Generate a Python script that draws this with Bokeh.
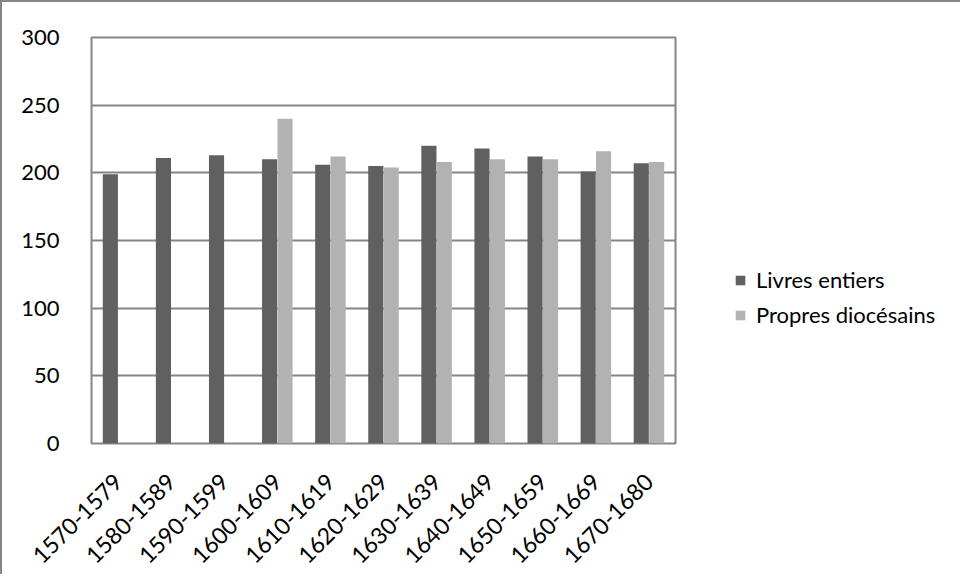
import math
from bokeh.plotting import figure
from bokeh.models import ColumnDataSource, FactorRange, Legend, LegendItem, FixedTicker
from bokeh.transform import dodge
from bokeh.embed import file_html
from bokeh.resources import INLINE

categories = ["1570-1579", "1580-1589", "1590-1599", "1600-1609", "1610-1619",
              "1620-1629", "1630-1639", "1640-1649", "1650-1659", "1660-1669", "1670-1680"]
livres_entiers = [199, 211, 213, 210, 206, 205, 220, 218, 212, 201, 207]
propres_diocesains = [float("nan"), float("nan"), float("nan"), 240, 212, 204, 208, 210, 210, 216, 208]
series_names = ["Livres entiers", "Propres diocésains"]
y_ticks = [0, 50, 100, 150, 200, 250, 300]

src = ColumnDataSource(dict(cat=categories, a=livres_entiers, b=propres_diocesains))

FONT = "Lato"
GRID = "#868686"

p = figure(x_range=FactorRange(*categories, range_padding=0), y_range=(0, 300),
           frame_width=584, frame_height=406, output_backend="svg", toolbar_location=None,
           min_border_left=89, min_border_top=35, min_border_right=0, min_border_bottom=125)
p.styles = {"border-left": "2px solid #868686", "border-top": "2px solid #868686"}

r1 = p.vbar(x=dodge("cat", -0.145, range=p.x_range), top="a", width=0.285, source=src,
            fill_color="#606060", line_color=None)
r2 = p.vbar(x=dodge("cat", 0.145, range=p.x_range), top="b", width=0.285, source=src,
            fill_color="#b2b2b2", line_color=None)

p.outline_line_color = GRID
p.outline_line_width = 2
p.xgrid.grid_line_color = None
p.ygrid.grid_line_color = GRID
p.ygrid.grid_line_width = 2
p.yaxis.ticker = FixedTicker(ticks=y_ticks)

for ax in (p.xaxis[0], p.yaxis[0]):
    ax.axis_line_color = None
    ax.major_tick_line_color = None
    ax.minor_tick_line_color = None
    ax.major_label_text_font = FONT
    ax.major_label_text_font_size = "22px"
    ax.major_label_text_color = "black"

p.xaxis.major_label_text_font_size = "23px"
p.yaxis.major_label_standoff = 26
p.xaxis.major_label_orientation = math.pi / 4
p.xaxis.major_label_standoff = 28

legend = Legend(items=[LegendItem(label=series_names[0], renderers=[r1]),
                       LegendItem(label=series_names[1], renderers=[r2])],
                location=(59, 115), orientation="vertical")
legend.border_line_color = None
legend.background_fill_alpha = 0
legend.label_text_font = FONT
legend.label_text_font_size = "22px"
legend.label_text_color = "black"
legend.glyph_width = 12
legend.glyph_height = 12
legend.label_height = 26
legend.label_standoff = 10
legend.spacing = 8
legend.padding = 0
legend.margin = 0
p.add_layout(legend, "right")

open("out.html", "w").write(file_html(p, INLINE))
